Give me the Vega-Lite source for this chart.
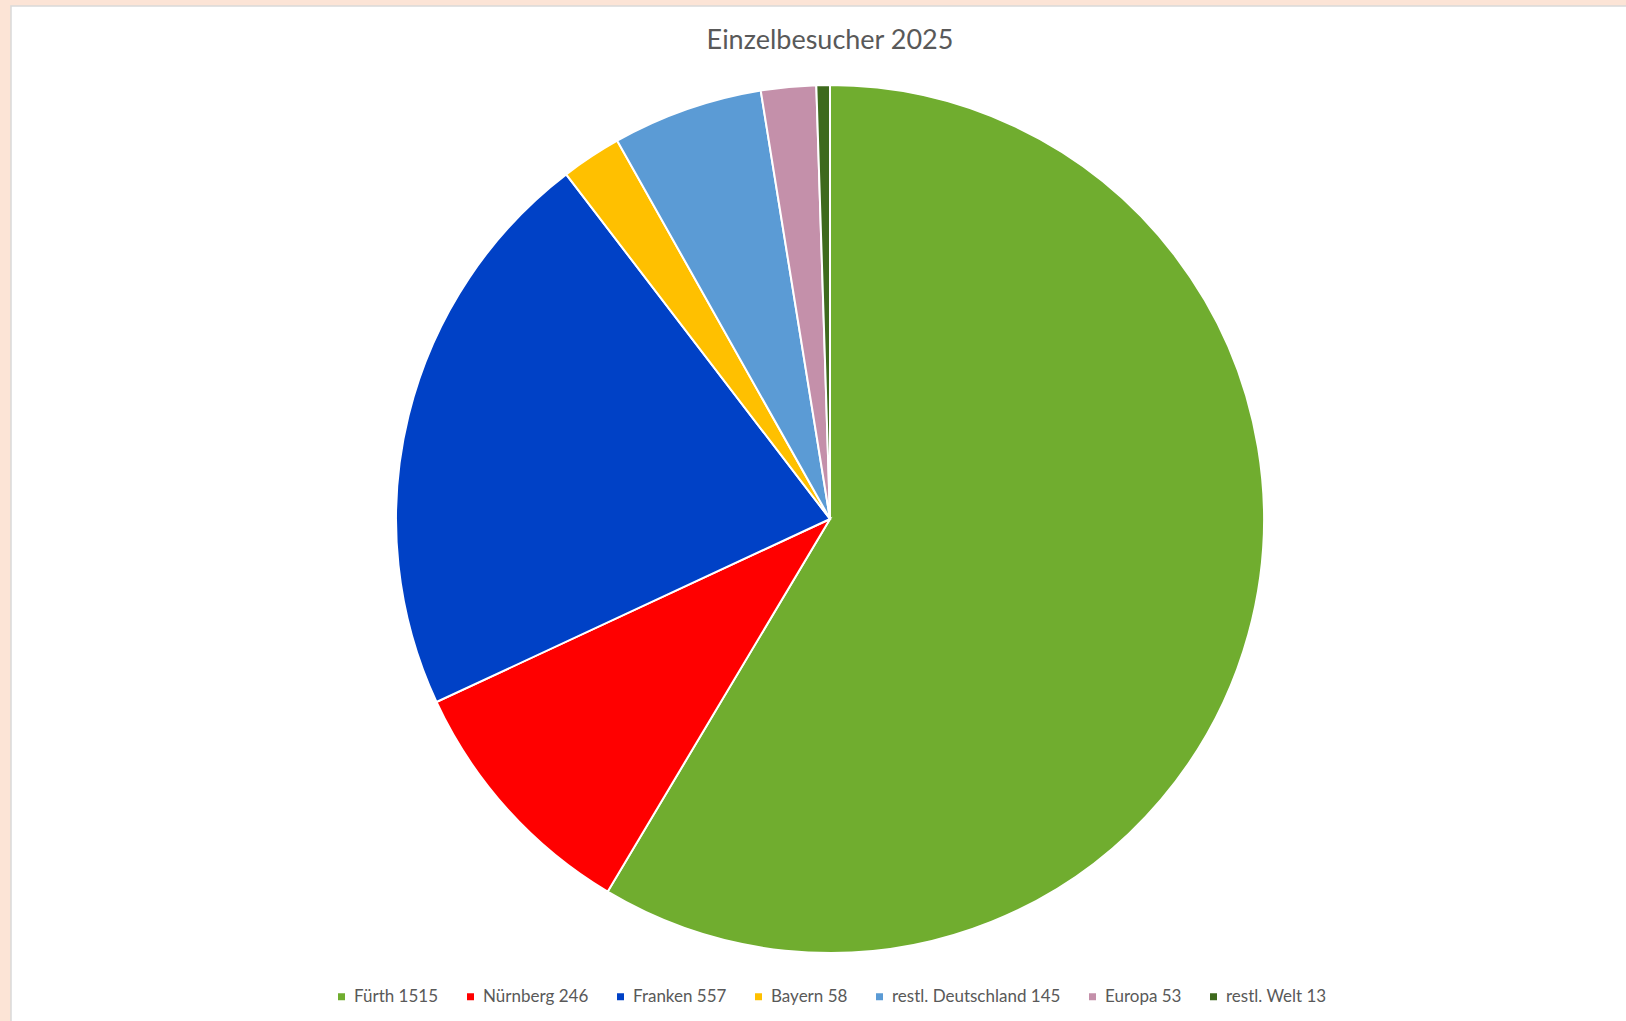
{
  "$schema": "https://vega.github.io/schema/vega-lite/v6.json",
  "autosize": {"type": "none"},
  "width": 1638,
  "height": 1026,
  "padding": {"left": 11, "top": 6, "right": -23, "bottom": -11},
  "background": "#FCE4D6",
  "view": {"fill": "#FFFFFF", "stroke": "#D9D9D9", "strokeWidth": 1.5},
  "title": {
    "text": "Einzelbesucher 2025",
    "orient": "top",
    "anchor": "middle",
    "frame": "group",
    "offset": -49,
    "font": "Lato",
    "fontSize": 27,
    "fontWeight": "normal",
    "color": "#595959"
  },
  "data": {
    "values": [
      {"idx": 1, "label": "Fürth 1515", "value": 1515},
      {"idx": 2, "label": "Nürnberg 246", "value": 246},
      {"idx": 3, "label": "Franken 557", "value": 557},
      {"idx": 4, "label": "Bayern 58", "value": 58},
      {"idx": 5, "label": "restl. Deutschland 145", "value": 145},
      {"idx": 6, "label": "Europa 53", "value": 53},
      {"idx": 7, "label": "restl. Welt 13", "value": 13}
    ]
  },
  "mark": {"type": "arc", "radius": 434, "stroke": "#FFFFFF", "strokeWidth": 2},
  "encoding": {
    "theta": {"field": "value", "type": "quantitative", "stack": true},
    "order": {"field": "idx", "type": "quantitative"},
    "color": {
      "field": "label",
      "type": "nominal",
      "sort": ["Fürth 1515", "Nürnberg 246", "Franken 557", "Bayern 58", "restl. Deutschland 145", "Europa 53", "restl. Welt 13"],
      "scale": {
        "domain": ["Fürth 1515", "Nürnberg 246", "Franken 557", "Bayern 58", "restl. Deutschland 145", "Europa 53", "restl. Welt 13"],
        "range": ["#70AD2F", "#FF0000", "#0041C6", "#FFC000", "#5B9BD5", "#C490AA", "#3E6A1D"]
      },
      "legend": {
        "title": null,
        "orient": "bottom",
        "direction": "horizontal",
        "columns": 7,
        "offset": -44,
        "symbolType": "square",
        "symbolSize": 49,
        "symbolStrokeWidth": 0,
        "labelFont": "Lato",
        "labelFontSize": 17,
        "labelColor": "#595959",
        "labelOffset": 4,
        "columnPadding": 23,
        "labelLimit": 400
      }
    }
  },
  "config": {
    "legend": {"layout": {"bottom": {"anchor": "middle"}}}
  }
}
